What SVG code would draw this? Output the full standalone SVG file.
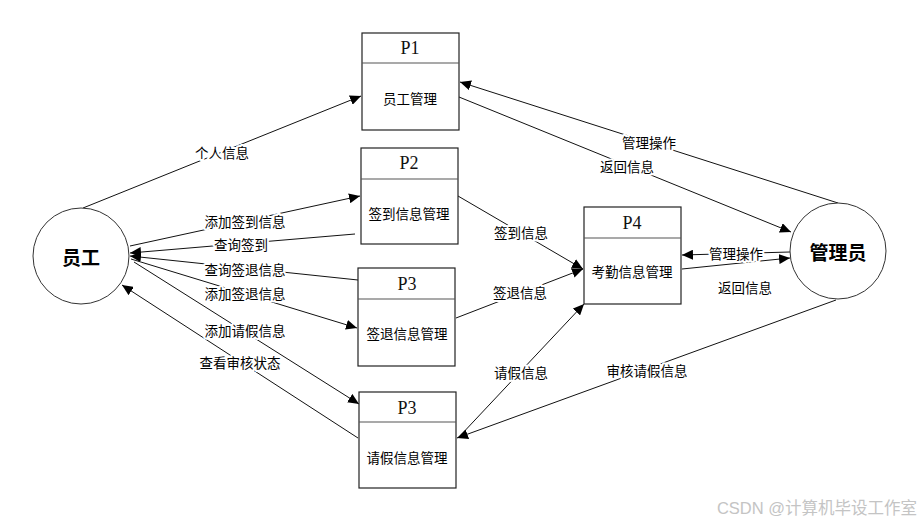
<svg xmlns="http://www.w3.org/2000/svg" width="921" height="523" viewBox="0 0 921 523">
<style>
.bg{fill:#fff}
.box{fill:#fff;stroke:#222;stroke-width:1.2}
.div{stroke:#555;stroke-width:1.2}
.circ{fill:#fff;stroke:#333;stroke-width:1}
.ln{stroke:#111;stroke-width:1;fill:none}
.lb{font-family:"Noto Sans CJK SC","Liberation Sans",sans-serif;font-size:13.5px;fill:#000;text-anchor:middle;dominant-baseline:central;stroke:#fff;stroke-width:4;paint-order:stroke;stroke-linejoin:round}
.nt{font-family:"Noto Sans CJK SC","Liberation Sans",sans-serif;font-size:13.5px;fill:#000;text-anchor:middle;dominant-baseline:central}
.hd{font-family:"Liberation Serif",serif;font-size:18px;fill:#111;text-anchor:middle;dominant-baseline:central}
.ct{font-family:"Noto Sans CJK SC","Liberation Sans",sans-serif;font-size:19px;font-weight:bold;fill:#000;text-anchor:middle;dominant-baseline:central}
.wm{font-family:"Liberation Sans","Noto Sans CJK SC",sans-serif;font-size:16.5px;fill:#c4c4c4;text-anchor:end;dominant-baseline:central}
</style>
<defs>
<marker id="ar" markerUnits="userSpaceOnUse" markerWidth="12" markerHeight="10" refX="11" refY="5" orient="auto">
<path d="M0,0 L11,5 L0,10 Z" fill="#000"/>
</marker>
</defs>
<rect class="bg" x="0" y="0" width="921" height="523"/>
<g id="connectors">
<line class="ln" x1="83" y1="208" x2="361" y2="96" marker-end="url(#ar)"/>
<line class="ln" x1="130" y1="246" x2="360" y2="196" marker-end="url(#ar)"/>
<line class="ln" x1="355" y1="234" x2="130" y2="253" marker-end="url(#ar)"/>
<line class="ln" x1="358" y1="280" x2="130" y2="256" marker-end="url(#ar)"/>
<line class="ln" x1="131" y1="259" x2="357" y2="328" marker-end="url(#ar)"/>
<line class="ln" x1="134" y1="262" x2="359" y2="404" marker-end="url(#ar)"/>
<line class="ln" x1="358" y1="438" x2="122" y2="285" marker-end="url(#ar)"/>
<line class="ln" x1="458" y1="196" x2="583" y2="269" marker-end="url(#ar)"/>
<line class="ln" x1="456" y1="318" x2="583" y2="269" marker-end="url(#ar)"/>
<line class="ln" x1="459" y1="437" x2="584" y2="304" marker-end="url(#ar)"/>
<line class="ln" x1="838" y1="203" x2="460" y2="82" marker-end="url(#ar)"/>
<line class="ln" x1="459" y1="97" x2="791" y2="232" marker-end="url(#ar)"/>
<line class="ln" x1="790" y1="252" x2="682" y2="255" marker-end="url(#ar)"/>
<line class="ln" x1="682" y1="269" x2="790" y2="258" marker-end="url(#ar)"/>
<line class="ln" x1="836" y1="300" x2="457" y2="438" marker-end="url(#ar)"/>
<text class="lb" x="222" y="152">个人信息</text>
<text class="lb" x="245" y="221">添加签到信息</text>
<text class="lb" x="241" y="244">查询签到</text>
<text class="lb" x="245" y="269">查询签退信息</text>
<text class="lb" x="245" y="293">添加签退信息</text>
<text class="lb" x="245" y="330">添加请假信息</text>
<text class="lb" x="240" y="362">查看审核状态</text>
<text class="lb" x="521" y="232">签到信息</text>
<text class="lb" x="520" y="292">签退信息</text>
<text class="lb" x="521" y="372">请假信息</text>
<text class="lb" x="649" y="142">管理操作</text>
<text class="lb" x="627" y="166">返回信息</text>
<text class="lb" x="736" y="253">管理操作</text>
<text class="lb" x="745" y="287">返回信息</text>
<text class="lb" x="647" y="370">审核请假信息</text>
</g>
<g id="emp">
<circle class="circ" cx="81" cy="256" r="48"/>
<text class="ct" x="81" y="256">员工</text>
</g>
<g id="admin">
<circle class="circ" cx="838" cy="251" r="48"/>
<text class="ct" x="838" y="251">管理员</text>
</g>
<g id="p1">
<rect class="box" x="362" y="33" width="97" height="97"/>
<line class="div" x1="362" y1="63" x2="459" y2="63"/>
<text class="hd" x="410" y="48">P1</text>
<text class="nt" x="410" y="98">员工管理</text>
</g>
<g id="p2">
<rect class="box" x="361" y="148" width="97" height="96"/>
<line class="div" x1="361" y1="179" x2="458" y2="179"/>
<text class="hd" x="409" y="163">P2</text>
<text class="nt" x="409" y="213">签到信息管理</text>
</g>
<g id="p3a">
<rect class="box" x="358" y="268" width="97" height="98"/>
<line class="div" x1="358" y1="299" x2="455" y2="299"/>
<text class="hd" x="407" y="284">P3</text>
<text class="nt" x="407" y="333">签退信息管理</text>
</g>
<g id="p4">
<rect class="box" x="584" y="207" width="97" height="97"/>
<line class="div" x1="584" y1="238" x2="681" y2="238"/>
<text class="hd" x="632" y="223">P4</text>
<text class="nt" x="632" y="271">考勤信息管理</text>
</g>
<g id="p3b">
<rect class="box" x="359" y="392" width="97" height="96"/>
<line class="div" x1="359" y1="422" x2="456" y2="422"/>
<text class="hd" x="407" y="408">P3</text>
<text class="nt" x="407" y="457">请假信息管理</text>
</g>
<text class="wm" x="917" y="508">CSDN @计算机毕设工作室</text>
</svg>
